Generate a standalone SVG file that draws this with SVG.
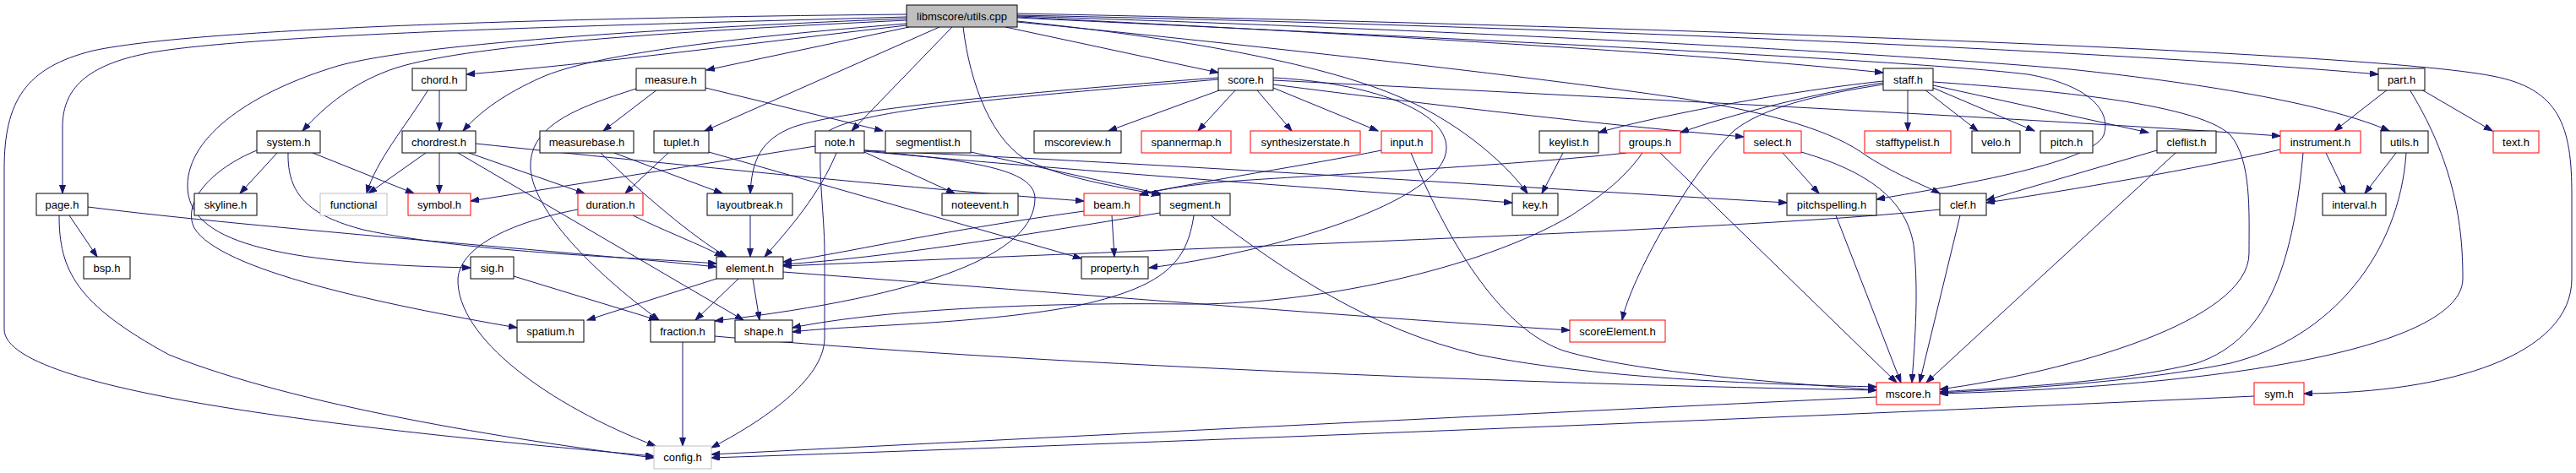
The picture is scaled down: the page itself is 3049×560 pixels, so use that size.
<svg xmlns="http://www.w3.org/2000/svg" width="3049" height="560" viewBox="0 0 3049 560">
<style>
.n rect{fill:#fff;stroke:#000;stroke-width:1}
.r rect{stroke:#ff0000}
.g rect{stroke:#bfbfbf}
.root rect{fill:#bfbfbf}
text{font-family:"Liberation Sans",Arial,sans-serif;font-size:13px;text-anchor:middle;fill:#000}
#edges path{fill:none;stroke:#191970;stroke-width:1;marker-end:url(#ah)}
</style>
<defs>
<marker id="ah" markerUnits="userSpaceOnUse" markerWidth="11" markerHeight="8" refX="10" refY="3.5" orient="auto">
<path d="M0,0 L10,3.5 L0,7 z" fill="#191970" stroke="#191970" stroke-width="1"/>
</marker>
</defs>
<rect width="3049" height="560" fill="#fff"/>
<g id="edges">
<path d="M1073,17 C760,20 250,30 110,60 C30,80 5,120 5,200 L5,390 C5,470 500,515 774,540"/>
<path d="M1073,20 C800,28 320,38 180,62 C110,75 74,100 74,150 L74,229"/>
<path d="M1073,24 C820,36 560,52 470,80 C420,96 385,125 358,155"/>
<path d="M1073,22 C820,32 500,50 400,78 C300,108 222,160 222,220 C222,285 320,312 557,317"/>
<path d="M1073,28 C860,45 700,65 640,92 C600,110 570,130 548,155"/>
<path d="M1073,30 C900,50 700,76 552,88"/>
<path d="M1076,32 L836,83"/>
<path d="M1112,32 L834,155"/>
<path d="M1127,32 L1008,155"/>
<path d="M1140,32 C1148,100 1175,170 1220,192 C1270,214 1330,222 1373,231"/>
<path d="M1190,32 L1442,86"/>
<path d="M1204,25 C1400,45 1560,75 1650,112 C1720,140 1780,190 1808,229"/>
<path d="M1204,21 C1700,45 2250,70 2400,88 C2470,100 2500,130 2490,160 C2475,195 2300,222 2221,236"/>
<path d="M1204,26 C1500,55 1850,95 2000,118 C2100,135 2170,155 2210,185 C2250,210 2275,218 2296,229"/>
<path d="M1204,20 C1600,40 2000,62 2229,86"/>
<path d="M1204,18 C1800,30 2500,60 2815,88"/>
<path d="M1204,19 C1700,35 2200,60 2450,82 C2620,100 2760,125 2828,155"/>
<path d="M1204,16 C1900,30 2800,60 2950,90 C3030,105 3044,150 3044,230 L3044,330 C3044,420 2900,465 2727,466"/>
<path d="M520,106 L520,155"/>
<path d="M507,106 C480,150 445,190 434,229"/>
<path d="M778,106 L714,155"/>
<path d="M753,105 C680,128 625,150 628,200 C632,250 700,320 780,379"/>
<path d="M835,104 L1045,155"/>
<path d="M328,181 L284,229"/>
<path d="M370,181 L490,229"/>
<path d="M341,181 C340,230 365,255 430,272 C560,300 760,305 848,312"/>
<path d="M304,178 C250,200 215,240 230,270 C260,320 450,360 612,388"/>
<path d="M82,255 L115,304"/>
<path d="M70,255 C70,320 90,360 200,420 C350,480 600,520 774,542"/>
<path d="M104,245 C300,270 700,300 848,316"/>
<path d="M504,181 L436,229"/>
<path d="M520,181 L520,229"/>
<path d="M555,181 L692,229"/>
<path d="M542,181 L880,379"/>
<path d="M563,170 C800,195 1100,225 1283,238"/>
<path d="M727,181 L855,229"/>
<path d="M711,181 C760,230 820,280 860,304"/>
<path d="M791,181 L740,229"/>
<path d="M839,180 L1280,306"/>
<path d="M749,255 C790,275 830,290 856,304"/>
<path d="M684,248 C610,262 545,290 542,330 C540,400 650,480 776,528"/>
<path d="M888,255 L888,304"/>
<path d="M965,173 L557,238"/>
<path d="M990,181 C970,230 935,270 905,304"/>
<path d="M1023,180 L1130,229"/>
<path d="M1023,179 C1300,205 1600,225 1790,240"/>
<path d="M1023,178 C1400,195 1800,222 2115,240"/>
<path d="M1023,178 C1150,190 1225,200 1225,235 C1225,300 1100,350 846,380"/>
<path d="M1149,180 L1375,230"/>
<path d="M1443,107 L1312,155"/>
<path d="M1462,107 L1418,155"/>
<path d="M1488,107 L1529,155"/>
<path d="M1507,104 L1631,155"/>
<path d="M1442,92 C1200,110 1000,130 940,150 C900,165 890,190 888,229"/>
<path d="M1442,94 C1200,115 1000,130 975,160 C965,180 976,250 976,300 L976,400 C976,450 900,500 842,530"/>
<path d="M1507,92 C1620,98 1712,130 1712,175 C1712,240 1500,300 1360,317"/>
<path d="M1507,100 C1700,125 1900,148 2064,162"/>
<path d="M1507,95 C1900,115 2400,140 2699,161"/>
<path d="M2258,106 L2258,155"/>
<path d="M2278,106 L2341,155"/>
<path d="M2288,104 L2408,155"/>
<path d="M2288,101 L2543,157"/>
<path d="M2229,96 C2100,110 1950,140 1892,157"/>
<path d="M2229,98 C2150,110 2050,135 1989,157"/>
<path d="M2229,100 C2150,112 2085,128 2052,155 C2000,205 1930,330 1920,379"/>
<path d="M2288,97 C2400,105 2600,120 2640,160 C2665,190 2662,250 2662,300 C2662,380 2450,440 2296,461"/>
<path d="M1925,181 C1800,195 1600,205 1450,215 C1400,220 1370,225 1349,231"/>
<path d="M1944,181 C1920,215 1890,235 1860,255 C1750,320 1550,362 1400,360 C1250,358 1050,365 938,388"/>
<path d="M1965,181 L2245,453"/>
<path d="M1635,178 C1550,195 1420,215 1349,230"/>
<path d="M1670,181 C1720,300 1780,390 1850,415 C1950,445 2150,455 2221,462"/>
<path d="M1850,181 L1825,229"/>
<path d="M2110,181 L2153,229"/>
<path d="M2132,180 C2200,200 2255,230 2265,290 C2272,350 2265,420 2263,453"/>
<path d="M2173,255 L2250,453"/>
<path d="M2320,255 L2272,453"/>
<path d="M2296,248 C2100,270 1500,290 927,315"/>
<path d="M2553,178 L2351,237"/>
<path d="M2575,181 L2280,453"/>
<path d="M2699,177 C2600,200 2450,225 2351,240"/>
<path d="M2753,181 L2776,229"/>
<path d="M2726,181 C2715,300 2690,400 2600,430 C2500,455 2350,460 2296,464"/>
<path d="M2836,181 L2799,229"/>
<path d="M2848,181 C2840,300 2760,400 2640,430 C2520,455 2350,462 2296,465"/>
<path d="M2826,106 L2763,155"/>
<path d="M2866,106 L2950,155"/>
<path d="M2852,106 C2910,200 2915,280 2915,330 C2915,400 2700,455 2296,466"/>
<path d="M1283,250 C1100,275 1000,300 927,310"/>
<path d="M1316,255 L1319,304"/>
<path d="M1373,252 C1200,280 1050,305 927,313"/>
<path d="M1413,255 C1405,310 1380,340 1270,363 C1150,385 1000,385 938,393"/>
<path d="M1433,255 C1520,320 1620,390 1750,420 C1900,450 2100,455 2221,458"/>
<path d="M848,330 L695,379"/>
<path d="M874,330 L823,379"/>
<path d="M891,330 L899,379"/>
<path d="M927,322 C1300,350 1600,375 1858,391"/>
<path d="M608,327 L778,379"/>
<path d="M808,405 L808,528"/>
<path d="M846,398 C1200,430 1800,455 2221,462"/>
<path d="M2221,470 C1800,490 1200,520 842,538"/>
<path d="M2668,469 C2000,500 1200,530 842,542"/>
</g>
<g id="n_root" class="n root"><rect x="1073" y="6" width="131" height="26"/><text x="1138.5" y="23.5">libmscore/utils.cpp</text></g>
<g id="n_chord" class="n"><rect x="488" y="81" width="64" height="26"/><text x="520" y="98.5">chord.h</text></g>
<g id="n_measure" class="n"><rect x="753" y="81" width="82" height="26"/><text x="794" y="98.5">measure.h</text></g>
<g id="n_score" class="n"><rect x="1442" y="81" width="65" height="26"/><text x="1474.5" y="98.5">score.h</text></g>
<g id="n_staff" class="n"><rect x="2229" y="81" width="59" height="26"/><text x="2258.5" y="98.5">staff.h</text></g>
<g id="n_part" class="n"><rect x="2815" y="81" width="55" height="26"/><text x="2842.5" y="98.5">part.h</text></g>
<g id="n_system" class="n"><rect x="304" y="155" width="75" height="26"/><text x="341.5" y="172.5">system.h</text></g>
<g id="n_chordrest" class="n"><rect x="476" y="155" width="87" height="26"/><text x="519.5" y="172.5">chordrest.h</text></g>
<g id="n_measurebase" class="n"><rect x="639" y="155" width="111" height="26"/><text x="694.5" y="172.5">measurebase.h</text></g>
<g id="n_tuplet" class="n"><rect x="774" y="155" width="65" height="26"/><text x="806.5" y="172.5">tuplet.h</text></g>
<g id="n_note" class="n"><rect x="965" y="155" width="58" height="26"/><text x="994" y="172.5">note.h</text></g>
<g id="n_segmentlist" class="n"><rect x="1048" y="155" width="101" height="26"/><text x="1098.5" y="172.5">segmentlist.h</text></g>
<g id="n_mscoreview" class="n"><rect x="1224" y="155" width="103" height="26"/><text x="1275.5" y="172.5">mscoreview.h</text></g>
<g id="n_spannermap" class="n r"><rect x="1351" y="155" width="106" height="26"/><text x="1404" y="172.5">spannermap.h</text></g>
<g id="n_synthesizerstate" class="n r"><rect x="1480" y="155" width="130" height="26"/><text x="1545" y="172.5">synthesizerstate.h</text></g>
<g id="n_input" class="n r"><rect x="1635" y="155" width="60" height="26"/><text x="1665" y="172.5">input.h</text></g>
<g id="n_keylist" class="n"><rect x="1822" y="155" width="70" height="26"/><text x="1857" y="172.5">keylist.h</text></g>
<g id="n_groups" class="n r"><rect x="1917" y="155" width="72" height="26"/><text x="1953" y="172.5">groups.h</text></g>
<g id="n_select" class="n r"><rect x="2064" y="155" width="68" height="26"/><text x="2098" y="172.5">select.h</text></g>
<g id="n_stafftypelist" class="n r"><rect x="2207" y="155" width="102" height="26"/><text x="2258" y="172.5">stafftypelist.h</text></g>
<g id="n_velo" class="n"><rect x="2334" y="155" width="57" height="26"/><text x="2362.5" y="172.5">velo.h</text></g>
<g id="n_pitch" class="n"><rect x="2415" y="155" width="62" height="26"/><text x="2446" y="172.5">pitch.h</text></g>
<g id="n_cleflist" class="n"><rect x="2553" y="155" width="70" height="26"/><text x="2588" y="172.5">cleflist.h</text></g>
<g id="n_instrument" class="n r"><rect x="2699" y="155" width="95" height="26"/><text x="2746.5" y="172.5">instrument.h</text></g>
<g id="n_utilsh" class="n"><rect x="2818" y="155" width="56" height="26"/><text x="2846" y="172.5">utils.h</text></g>
<g id="n_text" class="n r"><rect x="2951" y="155" width="54" height="26"/><text x="2978" y="172.5">text.h</text></g>
<g id="n_page" class="n"><rect x="43" y="229" width="61" height="26"/><text x="73.5" y="246.5">page.h</text></g>
<g id="n_skyline" class="n"><rect x="230" y="229" width="74" height="26"/><text x="267" y="246.5">skyline.h</text></g>
<g id="n_functional" class="n g"><rect x="379" y="229" width="79" height="26"/><text x="418.5" y="246.5">functional</text></g>
<g id="n_symbol" class="n r"><rect x="483" y="229" width="74" height="26"/><text x="520" y="246.5">symbol.h</text></g>
<g id="n_duration" class="n r"><rect x="684" y="229" width="77" height="26"/><text x="722.5" y="246.5">duration.h</text></g>
<g id="n_layoutbreak" class="n"><rect x="837" y="229" width="101" height="26"/><text x="887.5" y="246.5">layoutbreak.h</text></g>
<g id="n_noteevent" class="n"><rect x="1115" y="229" width="90" height="26"/><text x="1160" y="246.5">noteevent.h</text></g>
<g id="n_beam" class="n r"><rect x="1283" y="229" width="66" height="26"/><text x="1316" y="246.5">beam.h</text></g>
<g id="n_segment" class="n"><rect x="1373" y="229" width="83" height="26"/><text x="1414.5" y="246.5">segment.h</text></g>
<g id="n_key" class="n"><rect x="1790" y="229" width="54" height="26"/><text x="1817" y="246.5">key.h</text></g>
<g id="n_pitchspelling" class="n"><rect x="2115" y="229" width="106" height="26"/><text x="2168" y="246.5">pitchspelling.h</text></g>
<g id="n_clef" class="n"><rect x="2296" y="229" width="55" height="26"/><text x="2323.5" y="246.5">clef.h</text></g>
<g id="n_interval" class="n"><rect x="2749" y="229" width="75" height="26"/><text x="2786.5" y="246.5">interval.h</text></g>
<g id="n_bsp" class="n"><rect x="99" y="304" width="55" height="26"/><text x="126.5" y="321.5">bsp.h</text></g>
<g id="n_sig" class="n"><rect x="557" y="304" width="51" height="26"/><text x="582.5" y="321.5">sig.h</text></g>
<g id="n_element" class="n"><rect x="848" y="304" width="79" height="26"/><text x="887.5" y="321.5">element.h</text></g>
<g id="n_property" class="n"><rect x="1280" y="304" width="79" height="26"/><text x="1319.5" y="321.5">property.h</text></g>
<g id="n_spatium" class="n"><rect x="612" y="379" width="79" height="26"/><text x="651.5" y="396.5">spatium.h</text></g>
<g id="n_fraction" class="n"><rect x="770" y="379" width="76" height="26"/><text x="808" y="396.5">fraction.h</text></g>
<g id="n_shape" class="n"><rect x="870" y="379" width="68" height="26"/><text x="904" y="396.5">shape.h</text></g>
<g id="n_scoreElement" class="n r"><rect x="1858" y="379" width="113" height="26"/><text x="1914.5" y="396.5">scoreElement.h</text></g>
<g id="n_mscore" class="n r"><rect x="2221" y="453" width="75" height="26"/><text x="2258.5" y="470.5">mscore.h</text></g>
<g id="n_sym" class="n r"><rect x="2668" y="453" width="59" height="26"/><text x="2697.5" y="470.5">sym.h</text></g>
<g id="n_config" class="n g"><rect x="774" y="528" width="68" height="27"/><text x="808" y="545.5">config.h</text></g>
</svg>
